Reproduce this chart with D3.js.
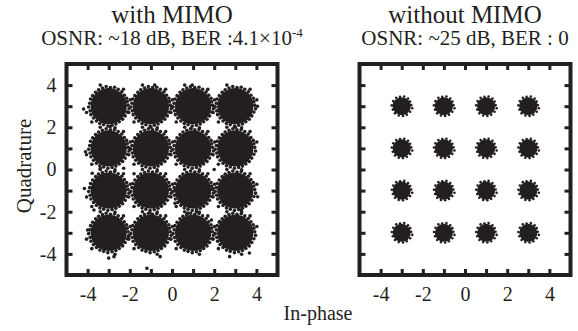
<!DOCTYPE html>
<html>
<head>
<meta charset="utf-8">
<script src="https://cdn.jsdelivr.net/npm/d3@7"></script>
<style>
  body { margin: 0; background: #fff; }
  svg { display: block; font-family: "Liberation Serif", "Times New Roman", serif; }
</style>
</head>
<body>
<div id="chart"></div>
<script>
// constellation levels (16-QAM)
const levels = [-3, -1, 1, 3];
const tickValues = [-4, -3, -2, -1, 0, 1, 2, 3, 4];
const tickLabels = ['-4', '-2', '0', '2', '4'];

const titles = ['with MIMO', 'without MIMO'];
const subtitles = ['OSNR: ~18 dB, BER :4.1\u00d710', 'OSNR: ~25 dB, BER : 0'];

// core radius of each cluster (data units)
const coreRadius = [0.86, 0.43];

// edge dots around each symbol, offsets from the symbol (data units)
const ringWith = [
  [0.92, 0.05], [0.88, 0.22], [0.85, 0.38], [0.74, 0.52], [0.62, 0.68], [0.45, 0.80],
  [0.28, 0.90], [0.08, 0.88], [-0.12, 0.93], [-0.30, 0.86], [-0.48, 0.78], [-0.62, 0.66],
  [-0.76, 0.50], [-0.86, 0.34], [-0.90, 0.14], [-0.95, -0.04], [-0.88, -0.22], [-0.84, -0.40],
  [-0.72, -0.56], [-0.58, -0.70], [-0.42, -0.82], [-0.24, -0.88], [-0.04, -0.94], [0.16, -0.90],
  [0.34, -0.84], [0.50, -0.74], [0.66, -0.62], [0.78, -0.46], [0.88, -0.28], [0.96, -0.12],
  [1.02, 0.30], [-0.40, 1.00], [-1.05, -0.30], [0.30, -1.02], [0.70, 0.80], [-0.80, -0.75]
];
const ringWithout = [
  [0.45, 0.05], [0.40, 0.22], [0.30, 0.36], [0.12, 0.46], [-0.08, 0.44], [-0.26, 0.40],
  [-0.40, 0.24], [-0.47, 0.04], [-0.42, -0.16], [-0.32, -0.34], [-0.14, -0.44], [0.06, -0.46],
  [0.24, -0.40], [0.40, -0.26], [0.50, -0.10]
];

// stray samples visible in the "with MIMO" plot
const straysWith = [
  [-4.19, 2.87], [-2.93, 2.03], [-4.1, 0.84], [-0.82, 4.0], [0.96, 4.0], [0.91, 1.95],
  [0, 2.98], [-3.4, 0.06], [-3.78, -0.18], [-4.0, -2.87], [-1.19, -4.68], [4.06, -1.29],
  [2.73, -4.13], [-2.06, -3.18], [0.14, -0.97], [0.14, -1.6], [-1.04, -2.06], [0.75, -2.06],
  [1.16, -2.0], [2.26, -2.47], [1.87, -2.39], [3.28, -1.92], [-0.56, -4.13], [-2.75, -4.13],
  [3.67, -3.96], [-3.7, -1.92], [-2.29, 0.06], [2.0, 0.0], [-2.0, 1.0], [3.0, 2.0],
  [-1.0, 2.0], [2.0, 3.0], [-3.0, -4.2], [-1.8, -0.2], [1.95, -0.9], [4.05, 3.0], [-4.15, -0.9]
];

const width = 578, height = 331;
const svg = d3.select('#chart').append('svg')
  .attr('width', width)
  .attr('height', height);

const panels = [
  { x0: 66.5, x1: 277.5, ring: ringWith, strays: straysWith, core: coreRadius[0], dot: 1.8 },
  { x0: 359.5, x1: 570.5, ring: ringWithout, strays: [], core: coreRadius[1], dot: 1.3 }
];
const plotTop = 64, plotBottom = 275;

const symbols = [];
levels.forEach(i => levels.forEach(q => symbols.push([i, q])));

panels.forEach((p, k) => {
  const x = d3.scaleLinear().domain([-5, 5]).range([p.x0, p.x1]);
  const y = d3.scaleLinear().domain([-5, 5]).range([plotBottom, plotTop]);
  const g = svg.append('g');
  const pxPerUnit = x(1) - x(0);

  // clusters
  g.selectAll('.core')
    .data(symbols)
    .enter()
    .append('circle')
    .attr('cx', d => x(d[0]))
    .attr('cy', d => y(d[1]))
    .attr('r', p.core * pxPerUnit)
    .attr('fill', '#231f20');

  const edge = [];
  symbols.forEach(s => p.ring.forEach(o => edge.push([s[0] + o[0], s[1] + o[1]])));
  g.selectAll('.edge')
    .data(edge.concat(p.strays))
    .enter()
    .append('circle')
    .attr('cx', d => x(d[0]))
    .attr('cy', d => y(d[1]))
    .attr('r', p.dot)
    .attr('fill', '#231f20');

  // inward ticks on all four sides
  const fmt = d => (tickLabels.includes(String(d)) ? String(d) : '');
  const styleAxis = sel => {
    sel.select('.domain').remove();
    sel.selectAll('line').attr('stroke', '#231f20').attr('stroke-width', 3);
    sel.selectAll('text')
      .style('font-size', '20px')
      .style('font-family', '"Liberation Serif", serif')
      .attr('fill', '#231f20');
  };

  g.append('g')
    .attr('transform', `translate(0,${plotBottom})`)
    .call(d3.axisBottom(x).tickValues(tickValues).tickFormat(fmt).tickSizeInner(-6).tickSizeOuter(0).tickPadding(12))
    .call(styleAxis);
  g.append('g')
    .attr('transform', `translate(0,${plotTop})`)
    .call(d3.axisTop(x).tickValues(tickValues).tickFormat('').tickSizeInner(-6).tickSizeOuter(0))
    .call(styleAxis);
  g.append('g')
    .attr('transform', `translate(${p.x1},0)`)
    .call(d3.axisRight(y).tickValues(tickValues).tickFormat('').tickSizeInner(-6).tickSizeOuter(0))
    .call(styleAxis);
  g.append('g')
    .attr('transform', `translate(${p.x0},0)`)
    .call(d3.axisLeft(y).tickValues(tickValues).tickFormat(k === 0 ? fmt : '').tickSizeInner(-6).tickSizeOuter(0).tickPadding(10))
    .call(styleAxis);

  // frame
  g.append('rect')
    .attr('x', p.x0)
    .attr('y', plotTop)
    .attr('width', p.x1 - p.x0)
    .attr('height', plotBottom - plotTop)
    .attr('fill', 'none')
    .attr('stroke', '#231f20')
    .attr('stroke-width', 4);

  // titles
  const cx = (p.x0 + p.x1) / 2;
  g.append('text')
    .attr('x', cx)
    .attr('y', 23)
    .attr('text-anchor', 'middle')
    .style('font-size', '25px')
    .attr('fill', '#231f20')
    .text(titles[k]);
  const sub = g.append('text')
    .attr('x', cx)
    .attr('y', 45)
    .attr('text-anchor', 'middle')
    .style('font-size', '21px')
    .attr('fill', '#231f20')
    .text(subtitles[k]);
  if (k === 0) {
    sub.append('tspan')
      .attr('dy', -8)
      .style('font-size', '13px')
      .text('-4');
  }
});

// axis titles
svg.append('text')
  .attr('transform', 'translate(31,166) rotate(-90)')
  .attr('text-anchor', 'middle')
  .style('font-size', '21px')
  .attr('fill', '#231f20')
  .text('Quadrature');

svg.append('text')
  .attr('x', 318)
  .attr('y', 320)
  .attr('text-anchor', 'middle')
  .style('font-size', '20px')
  .attr('fill', '#231f20')
  .text('In-phase');
</script>
</body>
</html>
